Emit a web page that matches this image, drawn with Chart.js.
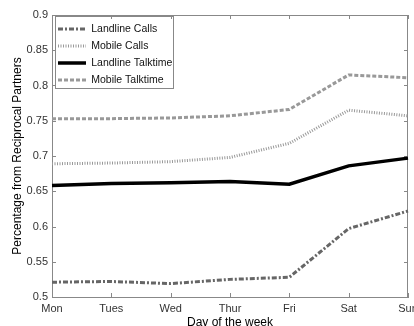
<!DOCTYPE html>
<html>
<head>
<meta charset="utf-8">
<script src="https://cdn.jsdelivr.net/npm/chart.js@4/dist/chart.umd.min.js"></script>
<style>
  html, body { margin: 0; padding: 0; background: #fff; overflow: hidden; }
  #wrap { position: relative; width: 414px; height: 326px; }
</style>
</head>
<body>
<div id="wrap"><canvas id="dayChart"></canvas></div>
<script>
// values
const days = ['Mon', 'Tues', 'Wed', 'Thur', 'Fri', 'Sat', 'Sun'];
const landlineCalls = [0.521, 0.522, 0.519, 0.525, 0.528, 0.597, 0.622];
const mobileCalls = [0.689, 0.690, 0.692, 0.698, 0.718, 0.765, 0.757];
const landlineTalktime = [0.658, 0.661, 0.662, 0.664, 0.660, 0.686, 0.697];
const mobileTalktime = [0.753, 0.753, 0.754, 0.757, 0.766, 0.815, 0.811];
const yTicks = { min: 0.5, max: 0.9, step: 0.05 };

Chart.defaults.font.family = '"Liberation Sans", Arial, Helvetica, sans-serif';

const legendFont = 10.5;
const legendPad = 6.5;

// box around the axes, inward tick marks, boxed legend (matlab look)
const matlabFrame = {
    id: 'matlabFrame',
    afterLayout(chart) {
        const lg = chart.legend, a = chart.chartArea;
        lg.left = a.left - 0.5;
        lg.top = a.top + 2.25;
        lg.right = lg.left + lg.width;
        lg.bottom = lg.top + 200;
    },
    beforeDraw(chart) {
        const ctx = chart.ctx, lg = chart.legend, a = chart.chartArea;
        ctx.save();
        ctx.font = legendFont + 'px "Liberation Sans", Arial, sans-serif';
        let maxW = 0;
        lg.legendItems.forEach(it => { maxW = Math.max(maxW, ctx.measureText(it.text).width); });
        const x0 = a.left + 3, y0 = a.top + 1;
        const x1 = lg.left + legendPad + 28 + legendFont / 2 + maxW + 1;
        const n = lg.legendItems.length;
        const y1 = lg.top + legendPad + legendFont / 2 + (n - 1) * (legendFont + legendPad) + 8;
        ctx.fillStyle = '#fff';
        ctx.fillRect(x0, y0, x1 - x0, y1 - y0);
        ctx.strokeStyle = '#888';
        ctx.lineWidth = 1;
        ctx.strokeRect(Math.round(x0) + 0.5, Math.round(y0) + 0.5, Math.round(x1 - x0), Math.round(y1 - y0));
        ctx.restore();
    },
    beforeDatasetsDraw(chart) {
        const { ctx, chartArea: a, scales: { x, y } } = chart;
        const t = 4;
        ctx.save();
        ctx.strokeStyle = '#888';
        ctx.lineWidth = 1;
        ctx.beginPath();
        const top = Math.round(a.top) + 0.5, right = Math.round(a.right) - 0.5;
        ctx.moveTo(a.left, top); ctx.lineTo(right, top); ctx.lineTo(right, a.bottom);
        x.ticks.forEach((tk, i) => {
            const px = Math.round(x.getPixelForTick(i)) + 0.5;
            ctx.moveTo(px, a.bottom); ctx.lineTo(px, a.bottom - t);
            ctx.moveTo(px, a.top); ctx.lineTo(px, a.top + t);
        });
        y.ticks.forEach((tk, i) => {
            const py = Math.round(y.getPixelForTick(i)) + 0.5;
            ctx.moveTo(a.left, py); ctx.lineTo(a.left + t, py);
            ctx.moveTo(a.right, py); ctx.lineTo(a.right - t, py);
        });
        ctx.stroke();
        ctx.restore();
    }
};

const ctx = document.getElementById('dayChart').getContext('2d');
const dayChart = new Chart(ctx, {
    type: 'line',
    data: {
        labels: days,
        datasets: [
            {
                label: 'Landline Calls',
                data: landlineCalls,
                borderColor: '#666',
                borderWidth: 3,
                borderDash: [5, 2, 2, 2]
            },
            {
                label: 'Mobile Calls',
                data: mobileCalls,
                borderColor: '#999',
                borderWidth: 3,
                borderDash: [1, 1.5]
            },
            {
                label: 'Landline Talktime',
                data: landlineTalktime,
                borderColor: '#000',
                borderWidth: 3.5
            },
            {
                label: 'Mobile Talktime',
                data: mobileTalktime,
                borderColor: '#999',
                borderWidth: 3,
                borderDash: [4, 2]
            }
        ]
    },
    options: {
        responsive: true,
        maintainAspectRatio: false,
        animation: false,
        layout: { padding: { top: 15, right: 6, bottom: 0, left: 0 } },
        elements: {
            point: { radius: 0, hoverRadius: 0 },
            line: { tension: 0, fill: false }
        },
        plugins: {
            tooltip: { enabled: false },
            legend: {
                position: 'chartArea',
                align: 'start',
                labels: {
                    usePointStyle: true,
                    pointStyle: 'line',
                    pointStyleWidth: 28,
                    padding: legendPad,
                    color: '#111',
                    font: { size: legendFont },
                    generateLabels(chart) {
                        const items = Chart.defaults.plugins.legend.labels.generateLabels(chart);
                        items.forEach(it => {
                            const ds = chart.data.datasets[it.datasetIndex];
                            it.lineDash = ds.borderDash || [];
                            it.lineWidth = ds.borderWidth;
                            it.strokeStyle = ds.borderColor;
                        });
                        return items;
                    }
                }
            }
        },
        scales: {
            x: {
                offset: false,
                grid: { display: false, drawTicks: false },
                border: { display: true, color: '#888' },
                ticks: { color: '#333', font: { size: 11 }, padding: 5, maxRotation: 0, autoSkip: false },
                title: {
                    display: true,
                    text: 'Day of the week',
                    color: '#000',
                    font: { size: 12, lineHeight: 1 },
                    padding: { top: 0, bottom: -2.5 }
                },
                afterFit(s) { s.height = 29; s.paddingLeft = 0; s.paddingRight = 0; }
            },
            y: {
                min: yTicks.min,
                max: yTicks.max,
                grid: { display: false, drawTicks: false },
                border: { display: true, color: '#888' },
                ticks: {
                    stepSize: yTicks.step,
                    color: '#333',
                    font: { size: 11 },
                    padding: 4,
                    callback: v => String(+v.toFixed(2))
                },
                title: {
                    display: true,
                    text: 'Percentage from Reciprocal Partners',
                    color: '#000',
                    font: { size: 12 },
                    padding: { top: 10, bottom: 0 }
                },
                afterFit(s) { s.width = 52; s.paddingTop = 0; s.paddingBottom = 0; }
            }
        }
    },
    plugins: [matlabFrame]
});
</script>
</body>
</html>
